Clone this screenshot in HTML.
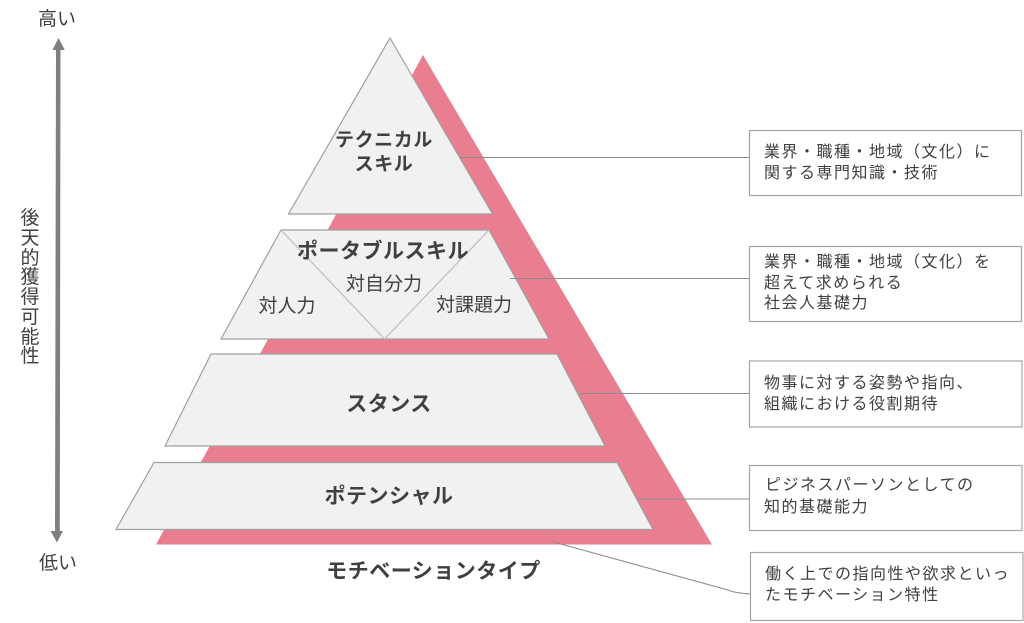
<!DOCTYPE html>
<html lang="ja"><head><meta charset="utf-8">
<style>
html,body{margin:0;padding:0;background:#fff;width:1024px;height:623px;overflow:hidden}
svg{display:block}
text{font-family:"Liberation Sans","Noto Sans CJK JP",sans-serif;fill:#404040}
.b{font-size:16px;letter-spacing:1.5px}
.h{font-size:19px;font-weight:700;letter-spacing:.6px;text-anchor:middle}
.l{font-size:21px;font-weight:700;letter-spacing:.5px;text-anchor:middle}
.m{font-size:19px;text-anchor:middle}
.v{font-size:19px;text-anchor:middle}
</style></head><body>
<svg width="1024" height="623" viewBox="0 0 1024 623" xmlns="http://www.w3.org/2000/svg">
<polygon points="423,55 712,544.500 156,544.500" fill="#e87e8f"/>
<g fill="#f1f1f1" stroke="#a0a0a0" stroke-width="1.2">
<polygon points="390,38 492.500,214 288.500,214"/>
<polygon points="281,230 489,230 549,339 221,339"/>
<polygon points="211,354 557,354 605,446 165,446"/>
<polygon points="154,462.500 617,462.500 653,529.500 116,529.500"/>
</g>
<polyline points="281,230 384.500,339 489,230" fill="none" stroke="#bdbdbd" stroke-width="1.2"/>
<g fill="none" stroke="#8c8c8c" stroke-width="1.100">
<line x1="460" y1="157.500" x2="749" y2="157.500"/>
<line x1="510" y1="278.500" x2="749" y2="278.500"/>
<line x1="580" y1="393.500" x2="750" y2="393.500"/>
<line x1="637" y1="499" x2="749" y2="499"/>
<path d="M553.500,542 L728,590 Q735,593 750,594"/>
</g>
<g fill="#fff" stroke="#a6a6a6" stroke-width="1.2">
<rect x="749.500" y="130.500" width="272" height="65"/>
<rect x="749.500" y="246.500" width="272" height="75"/>
<rect x="749.500" y="361" width="272.500" height="66"/>
<rect x="749.500" y="465.500" width="272.500" height="65"/>
<rect x="750.500" y="552.500" width="272.500" height="68"/>
</g>
<polygon fill="#7f7f7f" points="56,50 52.500,50 58.500,38 64.800,50 60.500,50 59.800,531 63,531 57,542.500 50.500,531 55,531" />
<text class="m" x="57" y="25">高い</text>
<text class="m" x="58" y="569">低い</text>
<text class="v" x="30" y="224">後</text>
<text class="v" x="30" y="244">天</text>
<text class="v" x="30" y="264">的</text>
<text class="v" x="30" y="283">獲</text>
<text class="v" x="30" y="303">得</text>
<text class="v" x="30" y="323">可</text>
<text class="v" x="30" y="343">能</text>
<text class="v" x="30" y="362">性</text>
<text class="h" x="384" y="146">テクニカル</text>
<text class="h" x="384" y="170">スキル</text>
<text class="l" x="383" y="258">ポータブルスキル</text>
<text class="l" x="389" y="411">スタンス</text>
<text class="l" x="389" y="503">ポテンシャル</text>
<text class="l" x="433.500" y="578">モチベーションタイプ</text>
<text class="m" x="287" y="312">対人力</text>
<text class="m" x="384" y="290">対自分力</text>
<text class="m" x="474" y="311">対課題力</text>
<text class="b" x="764" y="157">業界・職種・地域（文化）に</text>
<text class="b" x="764" y="178">関する専門知識・技術</text>
<text class="b" x="764" y="267">業界・職種・地域（文化）を</text>
<text class="b" x="764" y="288">超えて求められる</text>
<text class="b" x="764" y="308">社会人基礎力</text>
<text class="b" x="764" y="388">物事に対する姿勢や指向、</text>
<text class="b" x="764" y="409">組織における役割期待</text>
<text class="b" x="765" y="490">ピジネスパーソンとしての</text>
<text class="b" x="764" y="512">知的基礎能力</text>
<text class="b" x="765" y="579">働く上での指向性や欲求といっ</text>
<text class="b" x="765" y="600">たモチベーション特性</text>
</svg>
</body></html>
